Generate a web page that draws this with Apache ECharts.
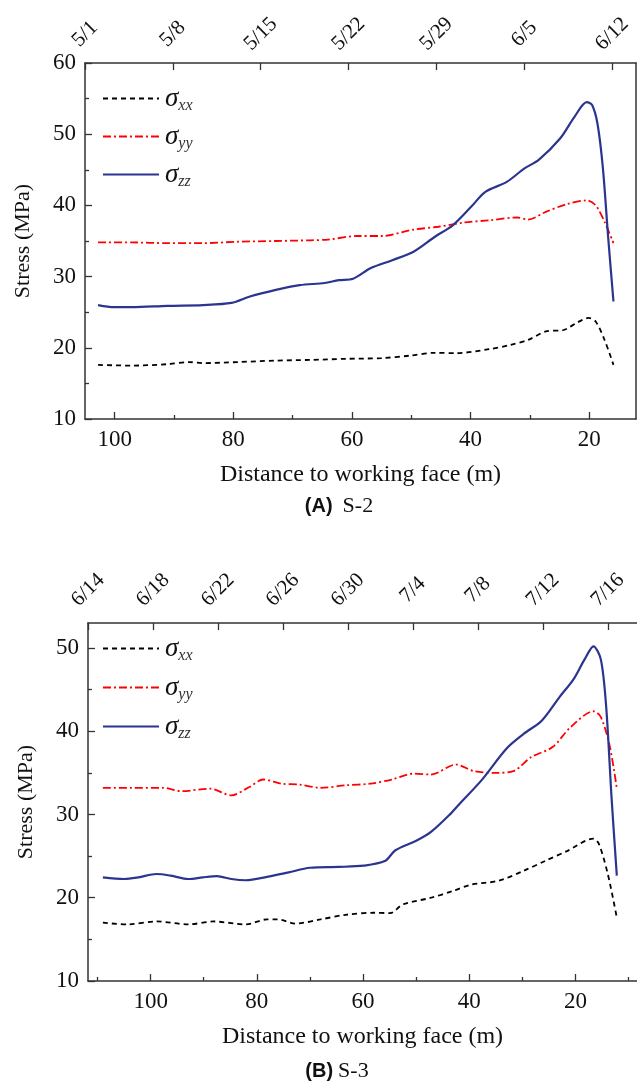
<!DOCTYPE html>
<html>
<head>
<meta charset="utf-8">
<script src="https://cdn.jsdelivr.net/npm/echarts@6/dist/echarts.min.js"></script>
<style>
html,body{margin:0;padding:0;background:#fff;}
#chart{width:637px;height:1082px;}
</style>
</head>
<body>
<div id="chart"></div>
<script>
// ---------- Data: S-2 (top) ----------
const s2TopDates = ['5/1','5/8','5/15','5/22','5/29','6/5','6/12'];
const s2TopDays = [0,7,14,21,28,35,42];
const s2XTicks = [20,40,60,80,100];

const s2ZzD = [102.8,100.1,97.1,91.1,85.1,80.3,77.2,73.0,68.8,64.6,62.2,59.8,56.8,53.2,49.6,46.0,43.0,39.9,37.5,33.9,30.9,28.5,24.9,22.5,20.4,19.5,18.6,17.7,16.8,15.9];
const s2ZzV = [26.0,25.7,25.7,25.9,26.0,26.3,27.2,28.1,28.8,29.1,29.5,29.7,31.2,32.3,33.5,35.6,37.2,39.8,41.9,43.3,45.2,46.4,49.4,52.4,54.5,54.1,51.5,45.4,35.6,26.5];

const s2YyD = [102.8,97.1,91.1,85.1,79.1,73.0,67.0,64.0,59.2,55.0,49.6,45.4,41.1,36.9,32.1,30.3,27.3,23.7,20.4,18.9,17.4,15.9];
const s2YyV = [34.8,34.8,34.7,34.7,34.9,35.0,35.1,35.2,35.7,35.7,36.6,37.0,37.6,37.9,38.3,38.0,39.1,40.2,40.7,40.0,37.7,34.7];

const s2XxD = [102.8,97.1,91.1,87.5,85.1,79.1,73.0,67.0,61.0,55.0,50.2,46.0,42.4,36.9,33.3,30.3,27.3,24.3,21.9,20.1,18.9,17.4,15.9];
const s2XxV = [17.6,17.5,17.7,18.0,17.85,18.0,18.2,18.3,18.45,18.55,18.9,19.3,19.25,19.8,20.4,21.1,22.3,22.5,23.6,24.2,23.7,21.1,17.6];

// ---------- Data: S-3 (bottom) ----------
const s3TopDates = ['6/14','6/18','6/22','6/26','6/30','7/4','7/8','7/12','7/16'];
const s3TopDays = [0,4,8,12,16,20,24,28,32];
const s3XTicks = [20,40,60,80,100];

const s3ZzD = [109.0,105.0,102.3,98.9,96.2,92.9,90.2,87.5,84.8,82.1,78.1,74.0,70.0,64.6,59.9,55.9,53.9,49.8,47.2,43.8,41.8,37.7,33.0,29.7,26.3,23.0,20.3,18.3,16.6,15.2,14.2,13.2,12.2];
const s3ZzV = [22.45,22.25,22.45,22.85,22.65,22.25,22.45,22.6,22.25,22.1,22.5,23.05,23.6,23.7,23.85,24.4,25.7,26.9,27.9,29.9,31.3,34.1,37.9,39.7,41.3,44.1,46.3,48.6,50.2,48.6,42.9,32.1,22.65];

const s3YyD = [109.0,103.6,97.6,94.2,88.8,84.8,81.4,78.8,75.4,72.0,68.0,63.3,58.6,54.6,50.5,47.2,42.5,39.1,35.1,31.7,28.3,24.3,20.9,16.6,15.2,13.5,12.2];
const s3YyV = [33.2,33.2,33.2,32.8,33.1,32.3,33.3,34.2,33.7,33.6,33.2,33.5,33.7,34.2,34.9,34.8,36.0,35.2,35.0,35.2,36.9,38.1,40.5,42.4,41.7,38.1,33.1];

const s3XxD = [109.0,104.3,98.9,92.9,88.2,82.1,78.1,76.1,72.7,68.0,63.3,57.9,54.9,52.5,47.2,43.1,39.8,34.4,29.7,25.6,21.6,16.6,15.6,13.9,12.2];
const s3XxV = [17.0,16.8,17.15,16.8,17.15,16.8,17.4,17.4,16.9,17.4,17.95,18.2,18.15,19.2,20.0,20.8,21.55,22.05,23.25,24.45,25.6,27.1,26.5,22.85,17.6];

const yTicksTop = [10,20,30,40,50,60];
const yTicksBot = [10,20,30,40,50];
const seriesNames = ['σxx','σyy','σzz'];

// ---------- helpers ----------
const zip = (a,b) => a.map((v,i) => [v, b[i]]);
const SERIF = 'Liberation Serif';
const AX = '#333';

function mainX(grid, min, max, ticks, minors) {
  return [{
    type:'value', gridIndex:grid, min:min, max:max, inverse:true, position:'bottom',
    axisLine:{show:true, onZero:false, lineStyle:{color:AX, width:1.5}},
    axisTick:{show:true, inside:true, length:7, customValues:ticks, lineStyle:{color:AX, width:1.3}},
    axisLabel:{show:true, customValues:ticks, margin:9, fontFamily:SERIF, fontSize:23, color:'#111'},
    splitLine:{show:false},
    name:'Distance to working face (m)', nameLocation:'middle', nameGap:44,
    nameTextStyle:{fontFamily:SERIF, fontSize:24, color:'#111'}
  },{
    type:'value', gridIndex:grid, min:min, max:max, inverse:true, position:'bottom',
    axisLine:{show:false, onZero:false},
    axisTick:{show:true, inside:true, length:4, customValues:minors, lineStyle:{color:AX, width:1.3}},
    axisLabel:{show:false}, splitLine:{show:false}
  }];
}
function dateX(grid, max, days, dates, margin) {
  return {
    type:'value', gridIndex:grid, min:0, max:max, position:'top',
    axisLine:{show:true, onZero:false, lineStyle:{color:AX, width:1.5}},
    axisTick:{show:true, inside:true, length:7, customValues:days, lineStyle:{color:AX, width:1.3}},
    axisLabel:{show:true, customValues:days, rotate:-45, align:'center', verticalAlign:'middle', margin:margin,
      fontFamily:SERIF, fontSize:21, color:'#111',
      formatter:(v)=>{ const i = days.indexOf(Math.round(v)); return i>=0 ? dates[i] : ''; }},
    splitLine:{show:false}
  };
}
function mainY(grid, max, ticks, minors) {
  return [{
    type:'value', gridIndex:grid, min:10, max:max, position:'left',
    axisLine:{show:true, onZero:false, lineStyle:{color:AX, width:1.5}},
    axisTick:{show:true, inside:true, length:7, customValues:ticks, lineStyle:{color:AX, width:1.3}},
    axisLabel:{show:true, customValues:ticks, margin:9, fontFamily:SERIF, fontSize:23, color:'#111'},
    splitLine:{show:false},
    name:'Stress (MPa)', nameLocation:'middle', nameGap:51,
    nameTextStyle:{fontFamily:SERIF, fontSize:22, color:'#111'}
  },{
    type:'value', gridIndex:grid, min:10, max:max, position:'left',
    axisLine:{show:false, onZero:false},
    axisTick:{show:true, inside:true, length:4, customValues:minors, lineStyle:{color:AX, width:1.3}},
    axisLabel:{show:false}, splitLine:{show:false}
  }];
}

const styles = {
  'σxx': {color:'#000000', width:1.8, type:[5,4]},
  'σyy': {color:'#ff0000', width:1.8, type:[8,3,2,3]},
  'σzz': {color:'#2b3590', width:2.2, type:'solid'}
};
function mkSeries(name, d, v, xi, yi) {
  return {
    name:name, type:'line', xAxisIndex:xi, yAxisIndex:yi, data:zip(d,v),
    smooth:0.3, showSymbol:false, symbol:'none', silent:true, animation:false,
    lineStyle:styles[name], itemStyle:{color:styles[name].color}, z:3
  };
}

const legendRich = {
  s:{fontFamily:SERIF, fontStyle:'italic', fontSize:27, color:'#111', lineHeight:30},
  b:{fontFamily:SERIF, fontStyle:'italic', fontSize:16, color:'#333', verticalAlign:'bottom', lineHeight:30}
};
function legend(top, gap) {
  return {
    orient:'vertical', left:102, top:top, padding:0, itemWidth:56, itemHeight:14, itemGap:gap,
    data:seriesNames, selectedMode:false,
    itemStyle:{opacity:0, borderWidth:0},
    formatter:(n)=> '{s|σ}{b|' + n.slice(1) + '}',
    textStyle:{rich:legendRich, padding:[0,0,0,1]}
  };
}
const capRich = {
  a:{fontFamily:'Liberation Sans', fontWeight:'bold', fontSize:20, color:'#111'},
  b:{fontFamily:SERIF, fontWeight:'normal', fontSize:22, color:'#111'}
};

const chart = echarts.init(document.getElementById('chart'), null, {renderer:'canvas'});
const option = {
  backgroundColor:'#fff',
  animation:false,
  grid:[
    {left:85, top:63, right:1, bottom:663, containLabel:false},
    {left:88, top:623, right:0, bottom:101, containLabel:false}
  ],
  title:[
    {text:'{a|(A)}  {b|S-2}', left:334, top:490, textAlign:'center', textStyle:{fontWeight:'normal', rich:capRich}},
    {text:'{a|(B)} {b|S-3}', left:332, top:1055, textAlign:'center', textStyle:{fontWeight:'normal', rich:capRich}}
  ],
  legend:[legend(85, 9.5), legend(635, 10.5)],
  xAxis:[
    ...mainX(0, 12.1, 105, s2XTicks, [30,50,70,90]),
    dateX(0, 43.9, s2TopDays, s2TopDates, 29),
    ...mainX(1, 8.4, 111.8, s3XTicks, [10,30,50,70,90,110]),
    dateX(1, 33.8, s3TopDays, s3TopDates, 33)
  ],
  yAxis:[
    ...mainY(0, 60, yTicksTop, [15,25,35,45,55]),
    {type:'value', gridIndex:0, min:10, max:60, position:'right',
     axisLine:{show:true, onZero:false, lineStyle:{color:AX, width:1.5}},
     axisTick:{show:false}, axisLabel:{show:false}, splitLine:{show:false}},
    ...mainY(1, 53, yTicksBot, [15,25,35,45])
  ],
  series:[
    mkSeries('σxx', s2XxD, s2XxV, 0, 0),
    mkSeries('σyy', s2YyD, s2YyV, 0, 0),
    mkSeries('σzz', s2ZzD, s2ZzV, 0, 0),
    mkSeries('σxx', s3XxD, s3XxV, 3, 3),
    mkSeries('σyy', s3YyD, s3YyV, 3, 3),
    mkSeries('σzz', s3ZzD, s3ZzV, 3, 3)
  ]
};
chart.setOption(option);
</script>
</body>
</html>
